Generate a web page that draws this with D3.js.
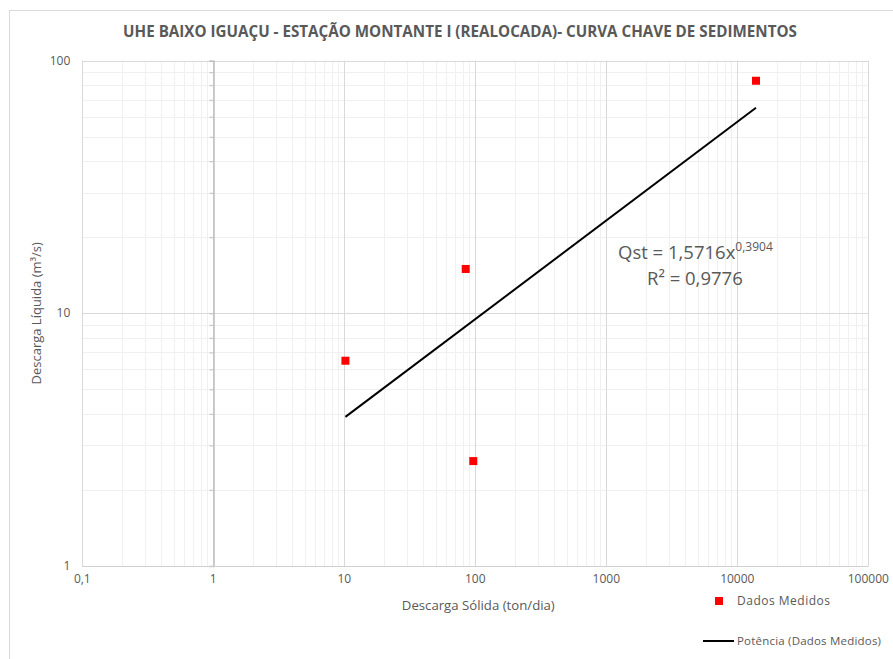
<!DOCTYPE html>
<html><head><meta charset="utf-8">
<script src="https://cdn.jsdelivr.net/npm/d3@7"></script>
<style>
html,body{margin:0;padding:0;background:#fff;}
svg{display:block;}
text{font-family:"Open Sans",sans-serif;fill:#595959;}
</style></head><body>
<svg id="c" width="893" height="659"></svg>
<script>
// Data
const solidDischarge = [10.2, 84.5, 96.5, 13890];   // ton/dia (x)
const liquidDischarge = [6.49, 14.98, 2.60, 83.3];   // m³/s (y)
const trendX = [10.2, 13890];                         // Potência trendline endpoints
const trendY = [3.89, 65.1];
const xTicks = [0.1, 1, 10, 100, 1000, 10000, 100000];
const xTickLabels = ["0,1", "1", "10", "100", "1000", "10000", "100000"];
const yTicks = [1, 10, 100];
const yTickLabels = ["1", "10", "100"];
const title = "UHE BAIXO IGUAÇU - ESTAÇÃO MONTANTE I (REALOCADA)- CURVA CHAVE DE SEDIMENTOS";
const eqText = "Qst = 1,5716x";
const eqExp = "0,3904";
const r2Text = "R² = 0,9776";

const svg = d3.select("#c");
const L = 82.3, R = 868.3, T = 60.7, B = 565.9;
const x = d3.scaleLog().domain([0.1, 100000]).range([L, R]);
const y = d3.scaleLog().domain([1, 100]).range([B, T]);

// outer chart border
svg.append("rect").attr("x", 9.5).attr("y", 10.5).attr("width", 900).attr("height", 700)
  .attr("fill", "none").attr("stroke", "#d9d9d9").attr("stroke-width", 1);

// minor gridlines
const minorX = [], minorY = [];
for (let d = 0.1; d < 100000; d *= 10) for (let k = 2; k <= 9; k++) minorX.push(d * k);
for (let d = 1; d < 100; d *= 10) for (let k = 2; k <= 9; k++) minorY.push(d * k);
const g = svg.append("g");
g.selectAll(".mx").data(minorX).join("line")
  .attr("x1", d => Math.round(x(d)) + 0.5).attr("x2", d => Math.round(x(d)) + 0.5)
  .attr("y1", T).attr("y2", B).attr("stroke", "#f0f0f0");
g.selectAll(".my").data(minorY).join("line")
  .attr("y1", d => Math.round(y(d)) + 0.5).attr("y2", d => Math.round(y(d)) + 0.5)
  .attr("x1", L).attr("x2", R).attr("stroke", "#f0f0f0");
// major gridlines
g.selectAll(".Mx").data(xTicks).join("line")
  .attr("x1", d => Math.round(x(d)) + 0.5).attr("x2", d => Math.round(x(d)) + 0.5)
  .attr("y1", T).attr("y2", B).attr("stroke", "#d9d9d9");
g.selectAll(".My").data(yTicks).join("line")
  .attr("y1", d => Math.round(y(d)) + 0.5).attr("y2", d => Math.round(y(d)) + 0.5)
  .attr("x1", L).attr("x2", R).attr("stroke", "#d9d9d9");

// vertical axis line crossing at x = 1, with ticks
const ax = Math.round(x(1)) + 0.5;
const yAxis = d3.axisLeft(y).tickValues(minorY.concat(yTicks)).tickSize(4).tickFormat("");
const ya = svg.append("g").attr("transform", `translate(${ax},0)`).call(yAxis);
ya.select(".domain").attr("stroke", "#bfbfbf").attr("stroke-width", 1.5);
ya.selectAll(".tick line").attr("stroke", "#bfbfbf");

// bottom axis line
svg.append("line").attr("x1", L).attr("x2", R).attr("y1", Math.round(B) + 0.5).attr("y2", Math.round(B) + 0.5)
  .attr("stroke", "#d0d0d0");

// tick labels (low position)
svg.selectAll(".xl").data(xTicks).join("text")
  .attr("x", d => x(d)).attr("y", B + 17).attr("text-anchor", "middle")
  .attr("font-size", 12).text((d, i) => xTickLabels[i]);
svg.selectAll(".yl").data(yTicks).join("text")
  .attr("x", L - 12).attr("y", d => y(d) + 4).attr("text-anchor", "end")
  .attr("font-size", 12).text((d, i) => yTickLabels[i]);

// trendline
const pts = trendX.map((v, i) => [v, trendY[i]]);
svg.append("path").attr("d", d3.line().x(d => x(d[0])).y(d => y(d[1]))(pts))
  .attr("stroke", "#000").attr("stroke-width", 2).attr("fill", "none");

// markers
const data = solidDischarge.map((v, i) => [v, liquidDischarge[i]]);
svg.selectAll(".pt").data(data).join("rect")
  .attr("x", d => x(d[0]) - 4).attr("y", d => y(d[1]) - 4)
  .attr("width", 8).attr("height", 8).attr("fill", "#ff0000");

// title
svg.append("text").attr("x", 460).attr("y", 37).attr("text-anchor", "middle")
  .attr("font-size", 15.2).attr("font-weight", "bold").text(title);

// axis titles
svg.append("text").attr("x", (L + R) / 2 + 3).attr("y", 610).attr("text-anchor", "middle")
  .attr("font-size", 13.2).text("Descarga Sólida (ton/dia)");
svg.append("text").attr("transform", `translate(41,${(T + B) / 2}) rotate(-90)`)
  .attr("text-anchor", "middle").attr("font-size", 13).text("Descarga Líquida (m³/s)");

// equation
const eq = svg.append("text").attr("x", 618).attr("y", 259).attr("font-size", 18.5);
eq.append("tspan").text(eqText);
eq.append("tspan").attr("dy", -8).attr("font-size", 12).text(eqExp);
svg.append("text").attr("x", 647).attr("y", 285).attr("font-size", 18.5).text(r2Text);

// legend
svg.append("rect").attr("x", 715).attr("y", 597).attr("width", 8).attr("height", 8).attr("fill", "#ff0000");
svg.append("text").attr("x", 737).attr("y", 605).attr("font-size", 12).attr("letter-spacing", 0.5)
  .text("Dados Medidos");
svg.append("line").attr("x1", 703).attr("x2", 734).attr("y1", 641).attr("y2", 641)
  .attr("stroke", "#000").attr("stroke-width", 2);
svg.append("text").attr("x", 737).attr("y", 645).attr("font-size", 11.5).attr("letter-spacing", 0.2)
  .text("Potência (Dados Medidos)");
</script>
</body></html>
